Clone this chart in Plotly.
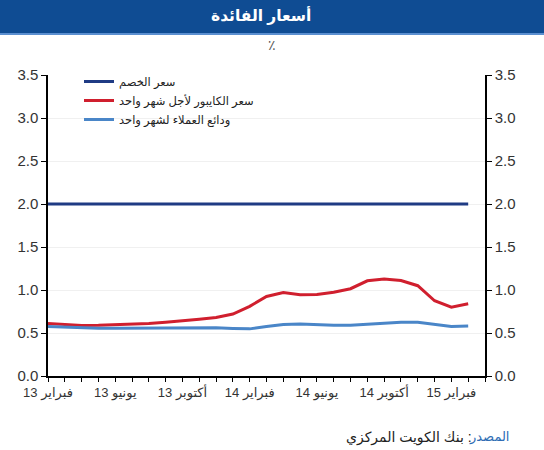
import plotly.graph_objects as go

# ---- data ----
months = list(range(26))  # Feb 2013 .. Mar 2015 (month index)
tick_positions = list(range(27))
tick_labels = {0: "فبراير 13", 4: "يونيو 13", 8: "أكتوبر 13", 12: "فبراير 14",
               16: "يونيو 14", 20: "أكتوبر 14", 24: "فبراير 15"}

discount_rate = [2.0] * 26
kibor_1m = [0.61, 0.60, 0.588, 0.59, 0.595, 0.60, 0.61, 0.625, 0.64, 0.66, 0.68,
            0.72, 0.81, 0.925, 0.97, 0.945, 0.947, 0.975, 1.015, 1.107, 1.127,
            1.11, 1.05, 0.875, 0.80, 0.84]
deposits_1m = [0.575, 0.568, 0.56, 0.555, 0.555, 0.556, 0.557, 0.558, 0.56, 0.56,
               0.56, 0.553, 0.548, 0.575, 0.60, 0.605, 0.595, 0.59, 0.59, 0.60,
               0.61, 0.625, 0.625, 0.60, 0.575, 0.58]

names = ["سعر الخصم", "سعر الكايبور لأجل شهر واحد", "ودائع العملاء لشهر واحد"]
colors = ["#1f3b84", "#d01f2e", "#4a86c8"]

title_text = "أسعار الفائدة"
unit_text = "٪"
source_label = "المصدر"
source_text = "بنك الكويت المركزي :"

W, H = 544, 450
L, R, T, B = 48, 59, 75, 74
PW, PH = W - L - R, H - T - B


def px_x(p):
    return (p - L) / PW


def px_y(p):
    return (H - B - p) / PH


fig = go.Figure()
for ys, nm, c in zip([discount_rate, kibor_1m, deposits_1m], names, colors):
    fig.add_trace(go.Scatter(x=months, y=ys, name=nm, mode="lines",
                             line=dict(color=c, width=3)))
# invisible trace to carry the right axis
fig.add_trace(go.Scatter(x=[0], y=[0], yaxis="y2", showlegend=False,
                         mode="markers", marker=dict(opacity=0), hoverinfo="skip"))

font = "Liberation Sans, Arial, DejaVu Sans, sans-serif"

fig.update_layout(
    width=W, height=H,
    margin=dict(l=L, r=R, t=T, b=B),
    paper_bgcolor="white", plot_bgcolor="white",
    font=dict(family=font, color="#333333"),
    showlegend=True,
    legend=dict(x=px_x(79), y=px_y(67), xanchor="left", yanchor="top",
                bgcolor="rgba(0,0,0,0)", font=dict(size=11.5, color="#222222"),
                tracegroupgap=0, itemwidth=30),
    xaxis=dict(range=[0, 26], tickvals=tick_positions,
               ticktext=[tick_labels.get(i, "") for i in tick_positions],
               showgrid=False, zeroline=False, showline=True, linecolor="black",
               linewidth=1.5, ticks="outside", ticklen=4, tickcolor="black",
               tickfont=dict(size=13, color="#333333"), tickangle=0),
    yaxis=dict(range=[0, 3.5], dtick=0.5, tickformat=".1f", showgrid=True,
               gridcolor="#f0f0f0", zeroline=False, showline=True, linecolor="black",
               linewidth=1.5, ticks="outside", ticklen=5, tickcolor="black",
               tickfont=dict(size=15, color="#333333")),
    yaxis2=dict(range=[0, 3.5], dtick=0.5, tickformat=".1f", overlaying="y",
                side="right", showgrid=False, zeroline=False, showline=True,
                linecolor="black", linewidth=1.5, ticks="outside", ticklen=5,
                tickcolor="black", tickfont=dict(size=15, color="#333333")),
    shapes=[
        dict(type="rect", xref="paper", yref="paper", x0=px_x(0), x1=px_x(W),
             y0=px_y(33), y1=px_y(0), fillcolor="#0f4c93", line=dict(width=0),
             layer="above"),
        dict(type="rect", xref="paper", yref="paper", x0=px_x(0), x1=px_x(W),
             y0=px_y(35), y1=px_y(33), fillcolor="#5b8fd0", line=dict(width=0),
             layer="above"),
    ],
    annotations=[
        dict(text="<b>" + title_text + "</b>", xref="paper", yref="paper",
             x=px_x(261), y=px_y(16), showarrow=False, xanchor="center",
             yanchor="middle", font=dict(size=15.5, color="white")),
        dict(text=unit_text, xref="paper", yref="paper", x=px_x(W / 2),
             y=px_y(45), showarrow=False, xanchor="center", yanchor="middle",
             font=dict(size=14, color="#555555")),
        dict(text=source_label, xref="paper", yref="paper", x=px_x(511),
             y=px_y(437), showarrow=False, xanchor="right", yanchor="middle",
             font=dict(size=13, color="#2e6db4")),
        dict(text=source_text, xref="paper", yref="paper", x=px_x(474),
             y=px_y(437), showarrow=False, xanchor="right", yanchor="middle",
             font=dict(size=14, color="#222222")),
    ],
)

fig.write_html("out.html")
